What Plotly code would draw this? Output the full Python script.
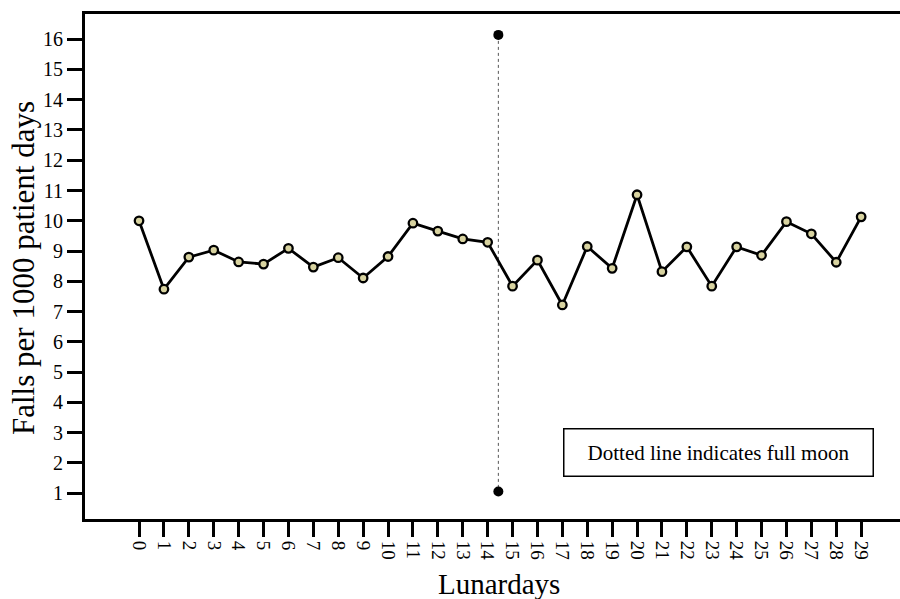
import plotly.graph_objects as go

lunar_days = list(range(30))
falls = [10.0, 7.74, 8.80, 9.03, 8.64, 8.57, 9.09, 8.47, 8.78, 8.11,
         8.82, 9.92, 9.66, 9.40, 9.29, 7.84, 8.70, 7.22, 9.15, 8.43,
         10.86, 8.32, 9.14, 7.84, 9.14, 8.86, 9.97, 9.57, 8.63, 10.13]
full_moon_x = [14.43, 14.43]
full_moon_y = [16.14, 1.06]
y_ticks = list(range(1, 17))
note_text = "Dotted line indicates full moon"
x_title = "Lunardays"
y_title = "Falls per 1000 patient days"

FONT = "Liberation Serif"

fig = go.Figure()
fig.add_trace(go.Scatter(
    x=full_moon_x, y=full_moon_y, mode="lines+markers",
    line=dict(color="#555555", width=1, dash="dot"),
    marker=dict(color="black", size=10),
    showlegend=False, hoverinfo="skip"))
fig.add_trace(go.Scatter(
    x=lunar_days, y=falls, mode="lines+markers",
    line=dict(color="black", width=2.8),
    marker=dict(color="#d8d3a0", size=8.5, line=dict(color="black", width=2.3)),
    showlegend=False))

fig.add_annotation(
    x=0.7773, y=0.1307, xref="paper", yref="paper", xanchor="center", yanchor="middle",
    text=note_text, showarrow=False, width=290, height=28,
    font=dict(family=FONT, size=21, color="black"),
    bordercolor="black", borderwidth=1.5, borderpad=9, bgcolor="white")

# axis titles placed as paper annotations for exact positioning
fig.add_annotation(
    x=0.508, y=-0.1287, xref="paper", yref="paper", xanchor="center", yanchor="middle",
    text=x_title, showarrow=False, font=dict(family=FONT, size=29, color="black"))
fig.add_annotation(
    x=-0.0761, y=0.497, xref="paper", yref="paper", xanchor="center", yanchor="middle",
    text=y_title, showarrow=False, textangle=-90,
    font=dict(family=FONT, size=31, color="black"))

fig.update_layout(
    template="none",
    width=900, height=599,
    margin=dict(l=85, r=0, t=14, b=80, autoexpand=False),
    paper_bgcolor="white", plot_bgcolor="white",
    font=dict(family=FONT, color="black", size=20),
    xaxis=dict(
        range=[-2.17, 30.56], tickvals=lunar_days, ticktext=[str(d) for d in lunar_days],
        tickangle=90, ticks="outside", ticklen=15, tickwidth=2.7, tickcolor="black",
        showline=True, linewidth=3, linecolor="black", mirror=True,
        showgrid=False, zeroline=False,
        tickfont=dict(family=FONT, size=19, color="black")),
    yaxis=dict(
        range=[0.15, 16.83], tickvals=y_ticks, ticktext=[str(v) for v in y_ticks],
        ticks="outside", ticklen=15, tickwidth=2.7, tickcolor="black",
        showline=True, linewidth=3, linecolor="black",
        showgrid=False, zeroline=False,
        tickfont=dict(family=FONT, size=20, color="black")),
)

# remove the default page margin so the 900x599 figure fills the window exactly
fig.write_html("out.html", config={"displayModeBar": False},
               post_script="document.body.style.margin='0px';document.documentElement.style.overflow='hidden';")
